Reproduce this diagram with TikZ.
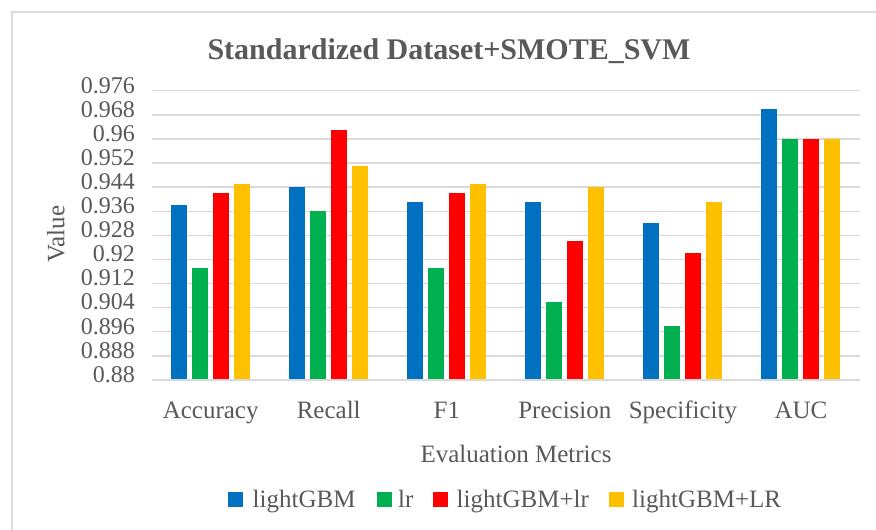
\documentclass[tikz,border=0pt]{standalone}
\usepackage{fontspec}
\setmainfont{Liberation Serif}
\definecolor{txt}{HTML}{595959}
\definecolor{gridc}{HTML}{D9D9D9}
\definecolor{framec}{HTML}{DCDCDC}
\definecolor{cBlue}{HTML}{0070C0}
\definecolor{cGreen}{HTML}{00B050}
\definecolor{cRed}{HTML}{FF0000}
\definecolor{cGold}{HTML}{FFC000}
\begin{document}
\begin{tikzpicture}[x=1pt,y=-1pt,
  lbl/.style={text=txt,font=\fontsize{25}{28}\selectfont,inner sep=0pt},
  tck/.style={text=txt,font=\fontsize{24}{27}\selectfont,inner sep=0pt},
  ttl/.style={text=txt,font=\fontsize{30}{34}\selectfont\bfseries,inner sep=0pt},
  gridline/.style={draw=gridc,line width=1.4pt},
  swatch/.style={minimum width=15pt,minimum height=15pt,inner sep=0pt,anchor=south west}]
\useasboundingbox (0,0) rectangle (876,530);
\fill[white] (0,0) rectangle (876,530);
% chart frame
\draw[framec,line width=1.6pt] (12,530) -- (12,12) -- (876,12);
% title
\node[ttl,anchor=base] (title) at (449,59) {Standardized Dataset+SMOTE\_SVM};
% gridlines and tick labels
\foreach \i/\t in {0/0.88,1/0.888,2/0.896,3/0.904,4/0.912,5/0.92,6/0.928,7/0.936,8/0.944,9/0.952,10/0.96,11/0.968,12/0.976}{
  \pgfmathsetmacro{\yy}{380-\i*24.108}
  \draw[gridline] (151.7,\yy) -- (860,\yy);
  \node[tck,anchor=mid east] (tick\i) at (135,\yy) {\t};
}
% bars: value -> y = 380 - (v-0.88)*3013.5
\foreach \g/\name/\a/\b/\c/\d in {
  0/Accuracy/0.938/0.917/0.942/0.945,
  1/Recall/0.944/0.936/0.963/0.951,
  2/F1/0.939/0.917/0.942/0.945,
  3/Precision/0.939/0.906/0.926/0.944,
  4/Specificity/0.932/0.898/0.922/0.939,
  5/AUC/0.970/0.960/0.960/0.960}{
  \pgfmathsetmacro{\cx}{210.7+\g*118.05}
  \foreach \k/\v/\col in {0/\a/cBlue,1/\b/cGreen,2/\c/cRed,3/\d/cGold}{
    \pgfmathsetmacro{\xl}{\cx-40+\k*21.1}
    \pgfmathsetmacro{\yt}{380-(\v-0.88)*3013.5}
    \fill[\col] (\xl,379.3) rectangle ({\xl+16.2},\yt);
  }
  \node[lbl,anchor=base] (cat\g) at (\cx,418) {\name};
}
% axis titles
\node[lbl,anchor=base] (xtitle) at (516,462) {Evaluation Metrics};
\node[lbl,rotate=90] (ytitle) at (56,234) {Value};
% legend
\node[swatch,fill=cBlue] (sw1) at (228,507.5) {};
\node[lbl,anchor=base west] (lg1) at (252.5,507.5) {lightGBM};
\node[swatch,fill=cGreen] (sw2) at (377,507.5) {};
\node[lbl,anchor=base west] (lg2) at (398,507.5) {lr};
\node[swatch,fill=cRed] (sw3) at (432.5,507.5) {};
\node[lbl,anchor=base west] (lg3) at (456.5,507.5) {lightGBM+lr};
\node[swatch,fill=cGold] (sw4) at (608.5,507.5) {};
\node[lbl,anchor=base west] (lg4) at (632,507.5) {lightGBM+LR};
\end{tikzpicture}
\end{document}
